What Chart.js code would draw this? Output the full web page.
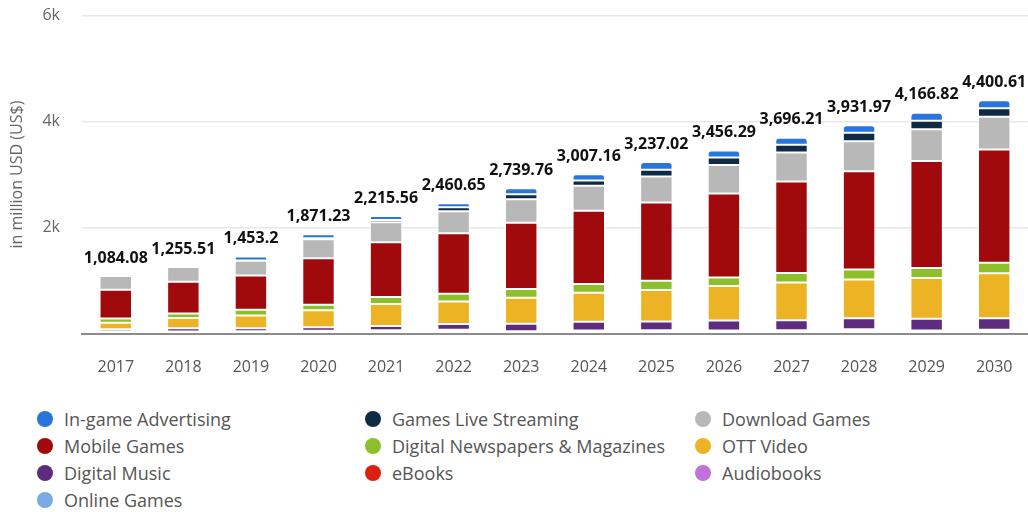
<!DOCTYPE html>
<html>
<head>
<meta charset="utf-8">
<script src="https://cdn.jsdelivr.net/npm/chart.js@4"></script>
<style>
  html, body { margin: 0; padding: 0; background: #fff; width: 1028px; height: 512px; overflow: hidden; font-family: 'Open Sans', sans-serif; }
  #wrap { position: absolute; left: 0; top: 0; width: 1028px; height: 380px; }
  #legend { position: absolute; left: 37px; top: 405px; display: grid; grid-template-columns: 328px 330px 300px; grid-auto-rows: 27px; }
  .item { display: flex; align-items: center; font-size: 18px; color: #555; white-space: nowrap; }
  .dot { width: 16px; height: 16px; border-radius: 50%; margin-right: 11px; flex: none; }
</style>
</head>
<body>
<div id="wrap"><canvas id="c"></canvas></div>
<div id="legend"></div>
<script>
const years = ['2017','2018','2019','2020','2021','2022','2023','2024','2025','2026','2027','2028','2029','2030'];
const totals = [1084.08,1255.51,1453.2,1871.23,2215.56,2460.65,2739.76,3007.16,3237.02,3456.29,3696.21,3931.97,4166.82,4400.61];

const inGameAdvertising   = [0,0,75,75,75,75,113,119,145,132,132,145,150,150];
const gamesLiveStreaming  = [0,0,5,15,40,75,95,100,130,145,150,160,160,160];
const downloadGames       = [257,276,280,362,379,419,440,472,490,538,547,566,600,615];
const mobileGames         = [545,601,645,877,1031,1142,1251,1383,1477,1585,1723,1855,2020,2140];
const digitalNewspapers   = [78,87,108,104,132,142,164,164,175,160,183,189,190,200];
const ottVideo            = [122,193,242,321,419,425,491,547,594,651,711,727,770,845];
const digitalMusic        = [45,60,57,66,77,109,142,166,166,189,189,208,220,220];
const eBooks              = [12,13,12,15,16,18,14,15,16,15,16,18,15,17];
const audiobooks          = [10,10,9,11,12,14,10,11,11,11,12,14,12,13];
const onlineGames         = [15,15,20,25,35,40,20,30,33,30,33,50,30,40];

const yTicks = [0, 2000, 4000, 6000];

// stacking order: bottom first
const series = [
  { label: 'Online Games', data: onlineGames, color: '#7aa9e4' },
  { label: 'Audiobooks', data: audiobooks, color: '#c071da' },
  { label: 'eBooks', data: eBooks, color: '#dc1f0f' },
  { label: 'Digital Music', data: digitalMusic, color: '#5e2b7e' },
  { label: 'OTT Video', data: ottVideo, color: '#ecb325' },
  { label: 'Digital Newspapers & Magazines', data: digitalNewspapers, color: '#8dbf2b' },
  { label: 'Mobile Games', data: mobileGames, color: '#a10a0d' },
  { label: 'Download Games', data: downloadGames, color: '#b8b8b8' },
  { label: 'Games Live Streaming', data: gamesLiveStreaming, color: '#0f2a44' },
  { label: 'In-game Advertising', data: inGameAdvertising, color: '#2876dd' }
];
const legendOrder = ['In-game Advertising','Games Live Streaming','Download Games','Mobile Games','Digital Newspapers & Magazines','OTT Video','Digital Music','eBooks','Audiobooks','Online Games'];

const datasets = series.map(s => ({
  label: s.label,
  data: s.data,
  backgroundColor: s.color,
  borderColor: '#ffffff',
  borderWidth: 1,
  borderSkipped: false,
  borderRadius: s.label === 'In-game Advertising' ? { topLeft: 5, topRight: 5, bottomLeft: 0, bottomRight: 0 } : 0,
  categoryPercentage: 1,
  barPercentage: 0.48
}));

const totalLabels = {
  id: 'totalLabels',
  afterDatasetsDraw(chart) {
    const ctx = chart.ctx;
    const meta0 = chart.getDatasetMeta(0);
    const yScale = chart.scales.y;
    ctx.save();
    ctx.font = "bold 16px 'Open Sans', sans-serif";
    ctx.fillStyle = '#111';
    ctx.textAlign = 'center';
    ctx.textBaseline = 'middle';
    years.forEach((yr, i) => {
      let sum = 0;
      chart.data.datasets.forEach(ds => { sum += ds.data[i] || 0; });
      const x = meta0.data[i].x;
      const y = yScale.getPixelForValue(sum) - 18;
      ctx.fillText(totals[i].toLocaleString('en-US', { maximumFractionDigits: 2 }), x, y);
    });
    ctx.restore();
  }
};

Chart.defaults.font.family = "'Open Sans', sans-serif";
const chart = new Chart(document.getElementById('c'), {
  type: 'bar',
  data: { labels: years, datasets },
  options: {
    responsive: true,
    maintainAspectRatio: false,
    animation: false,
    layout: { padding: { top: 0, left: 8, right: 0, bottom: 5.5 } },
    plugins: { legend: { display: false }, tooltip: { enabled: false } },
    scales: {
      x: {
        stacked: true,
        grid: { display: false, drawTicks: false },
        border: { display: true, color: '#8c8c8c', width: 2 },
        ticks: { color: '#555', font: { size: 16 }, padding: 24 },
        afterFit: axis => { axis.height = 41; axis.paddingLeft = 0; axis.paddingRight = 0; }
      },
      y: {
        stacked: true,
        min: 0,
        max: 6000,
        afterBuildTicks: axis => { axis.ticks = yTicks.map(v => ({ value: v })); },
        grid: { drawTicks: false, color: ctx => ctx.tick && ctx.tick.value === 0 ? 'rgba(0,0,0,0)' : '#e8e8e8', lineWidth: 1.5 },
        border: { display: false },
        ticks: { color: '#666', font: { size: 16 }, padding: 22, callback: v => v === 0 ? '' : (v / 1000) + 'k' },
        title: { display: true, text: 'in million USD (US$)', color: '#666', font: { size: 16 }, padding: { top: 0, bottom: 0 } },
        afterFit: axis => { axis.width = 74; axis.paddingTop = 15.6; axis.paddingBottom = 0; }
      }
    }
  },
  plugins: [totalLabels]
});

const legendEl = document.getElementById('legend');
legendOrder.forEach(name => {
  const ds = chart.data.datasets.find(d => d.label === name);
  const item = document.createElement('div');
  item.className = 'item';
  const dot = document.createElement('span');
  dot.className = 'dot';
  dot.style.background = ds.backgroundColor;
  const txt = document.createElement('span');
  txt.textContent = ds.label;
  item.appendChild(dot);
  item.appendChild(txt);
  legendEl.appendChild(item);
});
</script>
</body>
</html>
